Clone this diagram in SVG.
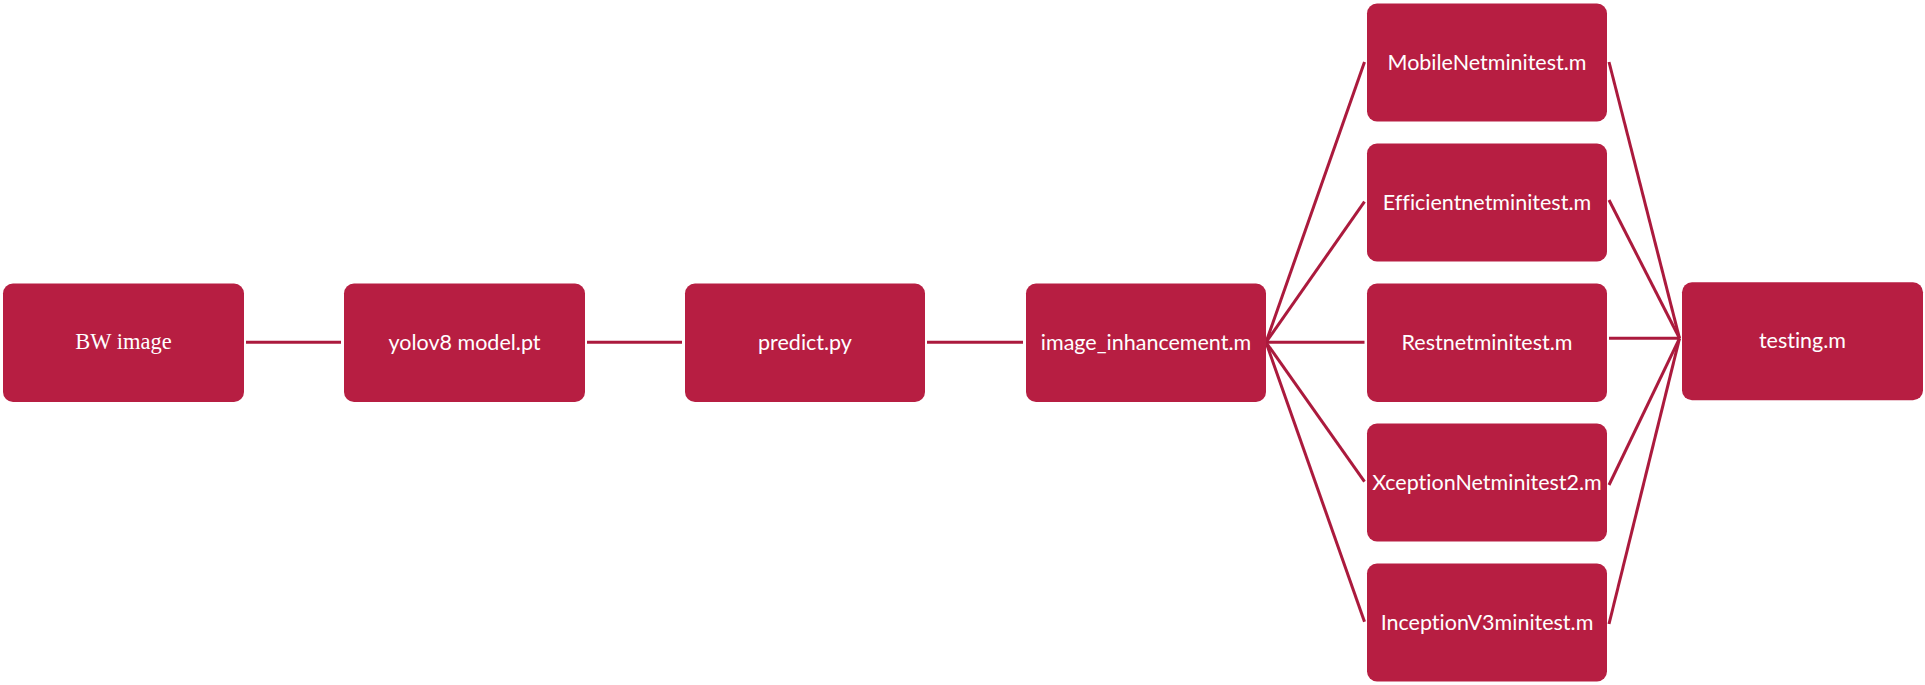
<svg xmlns="http://www.w3.org/2000/svg" width="1925" height="685" viewBox="0 0 1925 685">
  <style>
    .box { fill: #B71E42; }
    .lbl { fill: #FFFFFF; font-family: Lato, "Open Sans", "Liberation Sans", sans-serif; font-size: 21.5px; text-anchor: middle; font-variant-ligatures: none; font-feature-settings: "liga" 0, "dlig" 0; }
    .serif { fill: #FFFFFF; font-family: "Liberation Serif", "DejaVu Serif", serif; font-size: 22.5px; text-anchor: middle; }
    .conn { stroke: #AB1A3D; stroke-width: 3; fill: none; stroke-linecap: butt; }
  </style>
  <rect width="1925" height="685" fill="#FFFFFF"/>
  <g id="connectors">
    <line class="conn" x1="246" y1="342.3" x2="341" y2="342.3"/>
    <line class="conn" x1="587" y1="342.3" x2="682" y2="342.3"/>
    <line class="conn" x1="927" y1="342.3" x2="1023" y2="342.3"/>
    <line class="conn" x1="1266" y1="342.3" x2="1364.5" y2="62"/>
    <line class="conn" x1="1266" y1="342.3" x2="1364.5" y2="201.7"/>
    <line class="conn" x1="1266" y1="342.3" x2="1364.5" y2="342.3"/>
    <line class="conn" x1="1266" y1="342.3" x2="1364.5" y2="481.7"/>
    <line class="conn" x1="1266" y1="342.3" x2="1364.5" y2="621.7"/>
    <line class="conn" x1="1609" y1="62" x2="1679.5" y2="338.3"/>
    <line class="conn" x1="1609" y1="200" x2="1679.5" y2="338.3"/>
    <line class="conn" x1="1609" y1="338.3" x2="1679.5" y2="338.3"/>
    <line class="conn" x1="1609" y1="485" x2="1679.5" y2="338.3"/>
    <line class="conn" x1="1609" y1="624" x2="1679.5" y2="338.3"/>
  </g>
  <g id="bw-image">
    <rect class="box" x="3" y="283.5" width="241" height="118.5" rx="10" ry="10"/>
    <text class="serif" x="123.5" y="349.3">BW image</text>
  </g>
  <g id="yolov8-model">
    <rect class="box" x="344" y="283.5" width="241" height="118.5" rx="10" ry="10"/>
    <text class="lbl" x="464.5" y="349.5">yolov8 model.pt</text>
  </g>
  <g id="predict">
    <rect class="box" x="685" y="283.5" width="240" height="118.5" rx="10" ry="10"/>
    <text class="lbl" x="805" y="349.5">predict.py</text>
  </g>
  <g id="image-inhancement">
    <rect class="box" x="1026" y="283.5" width="240" height="118.5" rx="10" ry="10"/>
    <text class="lbl" x="1146" y="349.5">image_inhancement.m</text>
  </g>
  <g id="mobilenet">
    <rect class="box" x="1367" y="3.5" width="240" height="118" rx="10" ry="10"/>
    <text class="lbl" x="1487" y="69.5">MobileNetminitest.m</text>
  </g>
  <g id="efficientnet">
    <rect class="box" x="1367" y="143.5" width="240" height="118" rx="10" ry="10"/>
    <text class="lbl" x="1487" y="209.5">Efficientnetminitest.m</text>
  </g>
  <g id="restnet">
    <rect class="box" x="1367" y="283.5" width="240" height="118.5" rx="10" ry="10"/>
    <text class="lbl" x="1487" y="349.5">Restnetminitest.m</text>
  </g>
  <g id="xception">
    <rect class="box" x="1367" y="423.5" width="240" height="118" rx="10" ry="10"/>
    <text class="lbl" x="1487" y="489.5">XceptionNetminitest2.m</text>
  </g>
  <g id="inceptionv3">
    <rect class="box" x="1367" y="563.5" width="240" height="118" rx="10" ry="10"/>
    <text class="lbl" x="1487" y="629.5">InceptionV3minitest.m</text>
  </g>
  <g id="testing">
    <rect class="box" x="1682" y="282.3" width="241" height="118" rx="10" ry="10"/>
    <text class="lbl" x="1802.5" y="347.5">testing.m</text>
  </g>
</svg>
